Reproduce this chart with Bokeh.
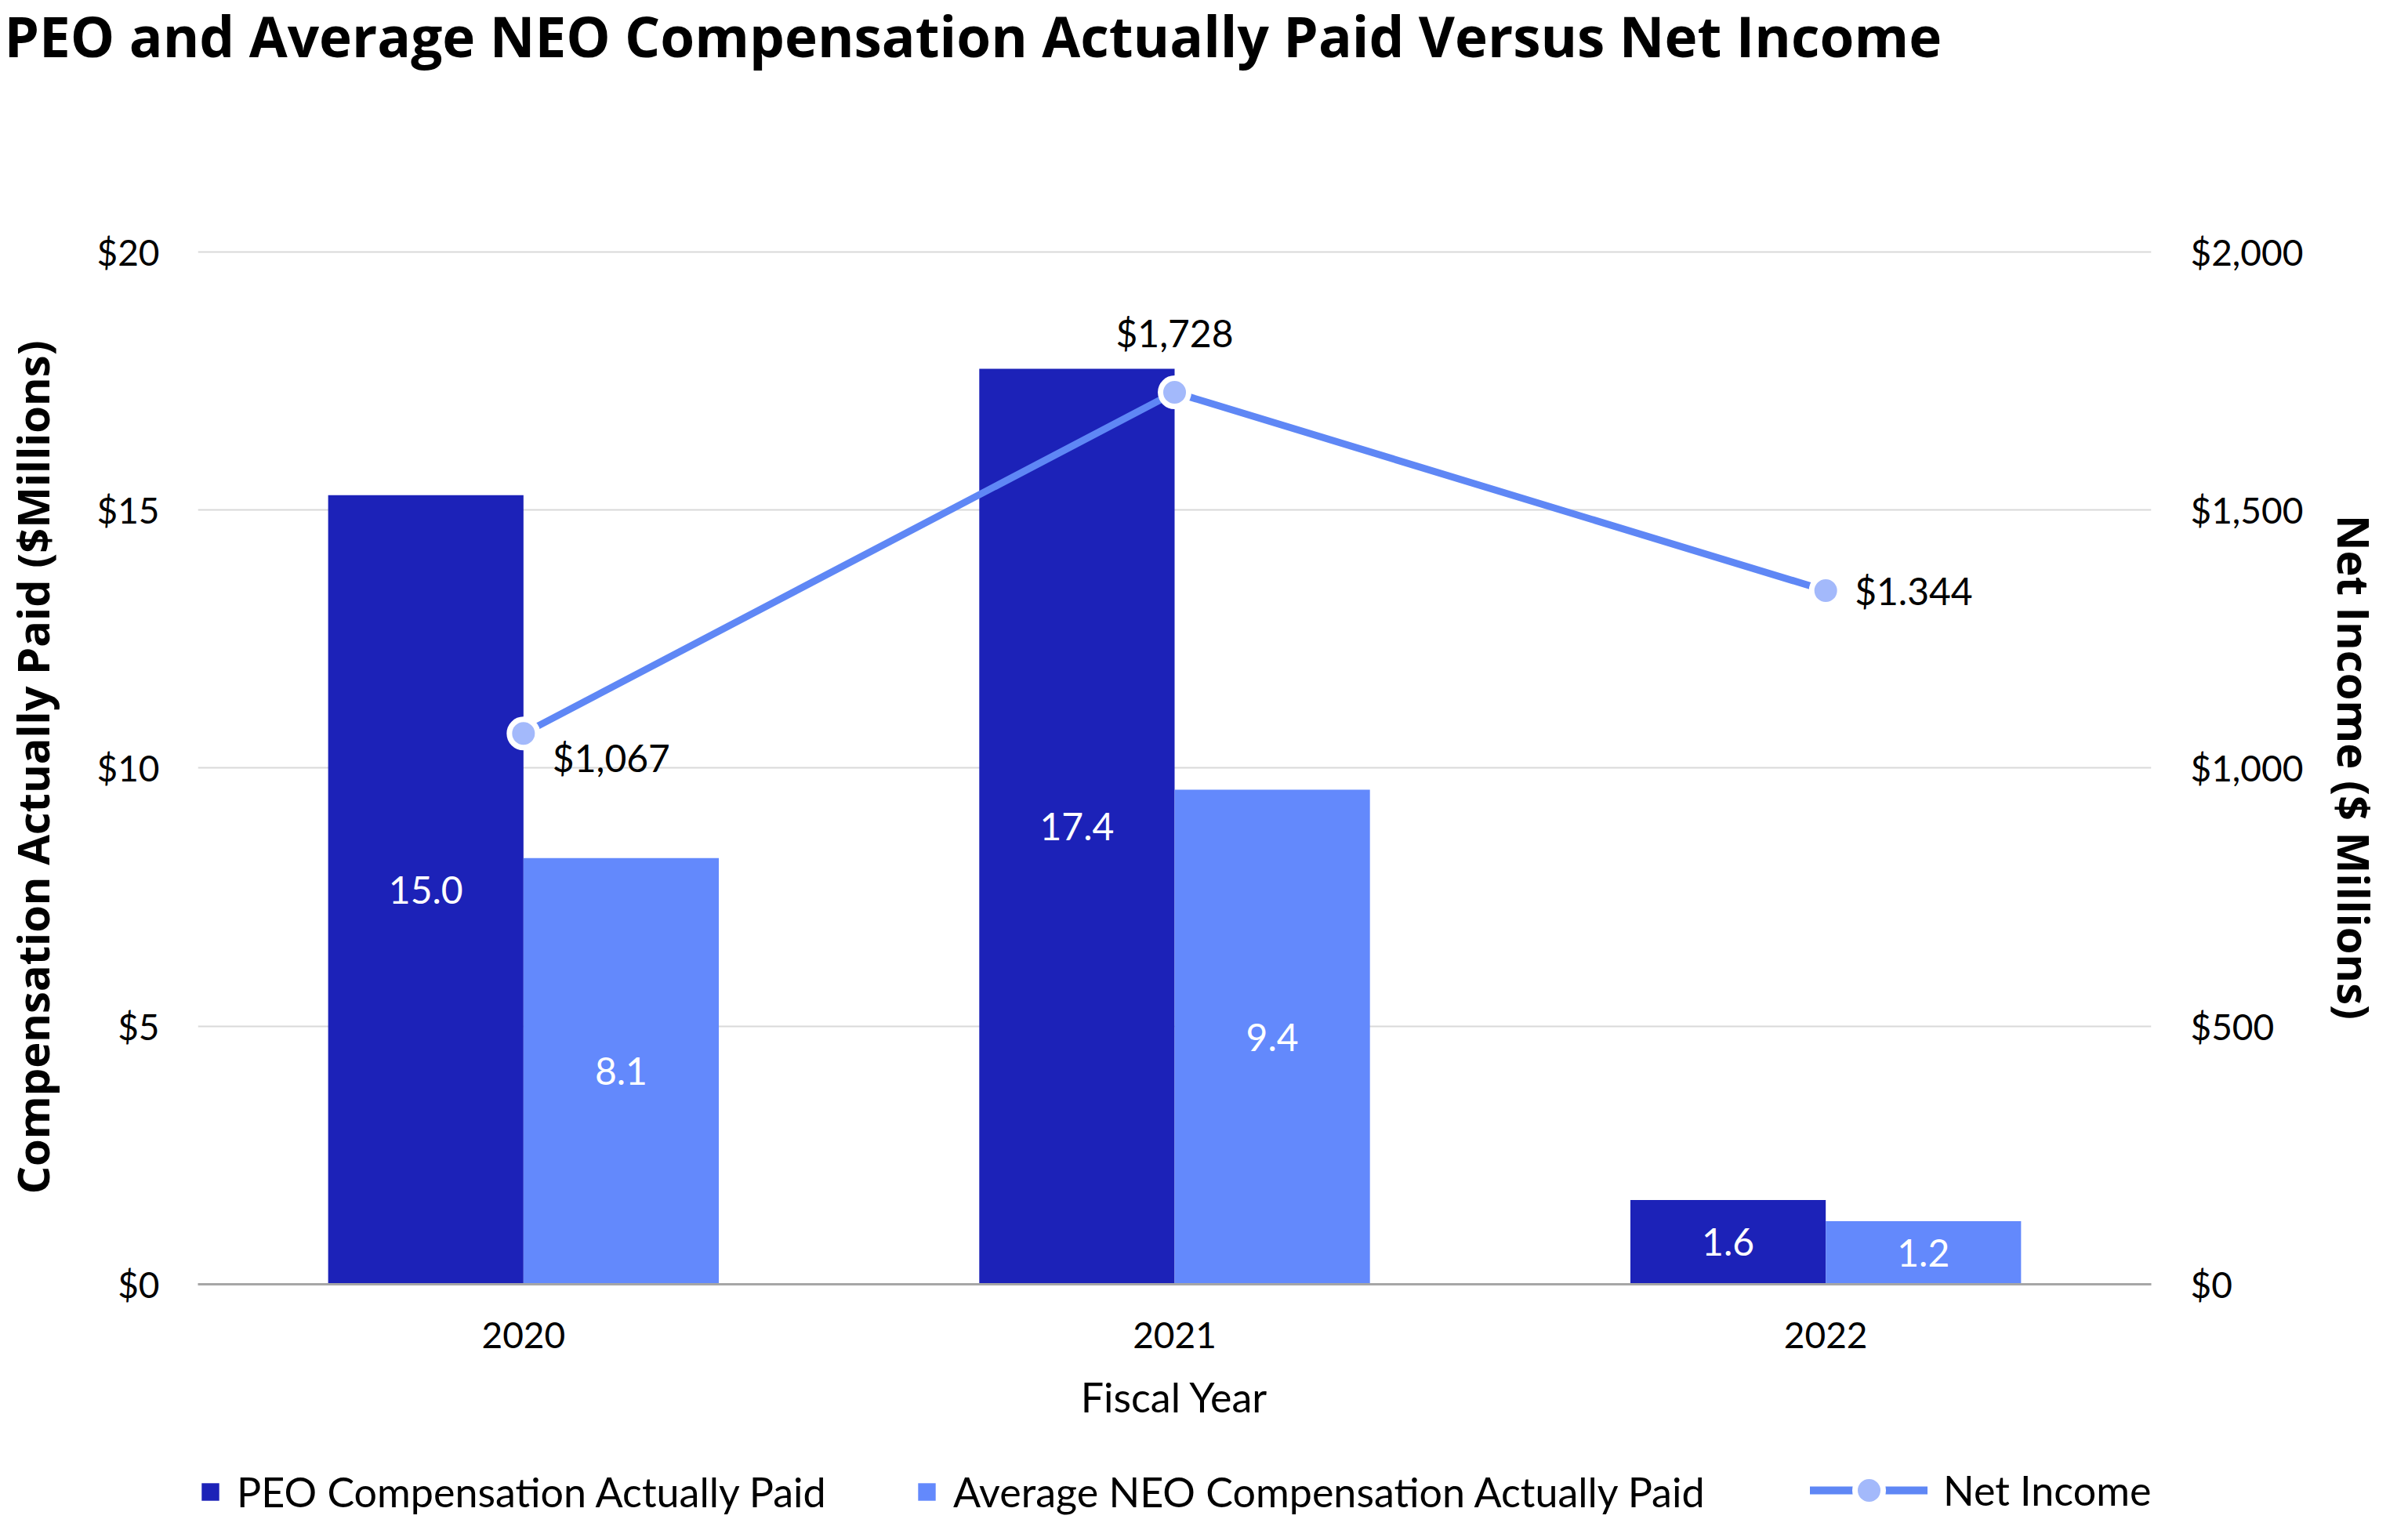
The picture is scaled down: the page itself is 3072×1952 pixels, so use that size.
from bokeh.plotting import figure
from bokeh.layouts import column
from bokeh.models import (FactorRange, Range1d, LinearAxis, FixedTicker, Title,
                          NumeralTickFormatter, Legend, LegendItem, ColumnDataSource)
from bokeh.transform import dodge
from bokeh.core.properties import value
from bokeh.embed import file_html
from bokeh.resources import INLINE

# ---- data ----
years = ["2020", "2021", "2022"]
peo_cap = [15.0, 17.4, 1.6]
neo_cap = [8.1, 9.4, 1.2]
net_income = [1067, 1728, 1344]
net_income_labels = ["$1,067", "$1,728", "$1.344"]
left_ticks = [0, 5, 10, 15, 20]
right_ticks = [0, 500, 1000, 1500, 2000]
series_names = ["PEO Compensation Actually Paid",
                "Average NEO Compensation Actually Paid", "Net Income"]
chart_title = "PEO and Average NEO Compensation Actually Paid Versus Net Income"

# ---- styles ----
FONT = "Lato"
BOLD_FONT = "Open Sans"
PEO_COLOR = "#1c22b8"
NEO_COLOR = "#6389fc"
LINE_COLOR = "#5f87f5"
MARKER_COLOR = "#a3b9fb"
ni_dx = [37, 0, 37]
ni_dy = [31, -76, 0]
ni_align = ["left", "center", "left"]
W = 3056
LEG_H = 110
MAIN_H = 1936 - LEG_H

src = ColumnDataSource(dict(
    year=years, peo=peo_cap, neo=neo_cap,
    peo_mid=[v / 2 for v in peo_cap], neo_mid=[v / 2 for v in neo_cap],
    peo_lbl=[f"{v:.1f}" for v in peo_cap], neo_lbl=[f"{v:.1f}" for v in neo_cap],
    ni=net_income, ni_lbl=net_income_labels,
    dx=ni_dx, dy=ni_dy, al=ni_align,
))

p = figure(width=W, height=MAIN_H, x_range=FactorRange(factors=years),
           y_range=Range1d(0, 20.03), output_backend="svg", toolbar_location=None,
           min_border_left=247, min_border_right=312, min_border_top=10,
           min_border_bottom=MAIN_H - 1638)
p.extra_y_ranges = {"bars": Range1d(0, 19.65), "ni": Range1d(0, 2003)}

# chart title (outermost, at the very top)
p.title.text = chart_title
p.title.text_font = BOLD_FONT
p.title.text_font_size = "71px"
p.title.text_font_style = "bold"
p.title.text_color = "black"
p.title.align = "left"
p.title.vertical_align = "top"
p.title.offset = -247
p.title.standoff = -8
# blank spacer between the title and the plot frame
p.add_layout(Title(text=" ", text_font=BOLD_FONT, text_font_size="10px",
                   standoff=212), "above")

peo_r = p.vbar(x=dodge("year", -0.15, range=p.x_range), top="peo", width=0.3,
               fill_color=PEO_COLOR, line_color=None, y_range_name="bars", source=src)
neo_r = p.vbar(x=dodge("year", 0.15, range=p.x_range), top="neo", width=0.3,
               fill_color=NEO_COLOR, line_color=None, y_range_name="bars", source=src)

p.text(x=dodge("year", -0.15, range=p.x_range), y="peo_mid", text="peo_lbl",
       y_range_name="bars", source=src, text_color="white", text_align="center",
       text_baseline="middle", text_font=value(FONT), text_font_size="48px")
p.text(x=dodge("year", 0.15, range=p.x_range), y="neo_mid", text="neo_lbl",
       y_range_name="bars", source=src, text_color="white", text_align="center",
       text_baseline="middle", text_font=value(FONT), text_font_size="48px")

line_r = p.line(x="year", y="ni", y_range_name="ni", source=src,
                line_width=9, line_color=LINE_COLOR, line_cap="round")
dot_r = p.scatter(x="year", y="ni", y_range_name="ni", source=src, size=36,
                  fill_color=MARKER_COLOR, line_color="white", line_width=7)
p.text(x="year", y="ni", text="ni_lbl", y_range_name="ni", source=src,
       x_offset="dx", y_offset="dy", text_align="al", text_baseline="middle",
       text_color="black", text_font=value(FONT), text_font_size="48px")

# ---- axes ----
yl = p.yaxis[0]
yl.ticker = FixedTicker(ticks=left_ticks)
yl.formatter = NumeralTickFormatter(format="$0")
yl.axis_label = "Compensation Actually Paid ($Millions)"

yr = LinearAxis(y_range_name="ni", ticker=FixedTicker(ticks=right_ticks),
                formatter=NumeralTickFormatter(format="$0,0"),
                axis_label="Net Income ($ Millions)")
p.add_layout(yr, "right")

for ax in (yl, yr):
    ax.axis_line_color = None
    ax.major_tick_line_color = None
    ax.minor_tick_line_color = None
    ax.major_tick_out = 0
    ax.major_tick_in = 0
    ax.minor_tick_out = 0
    ax.major_label_text_font = FONT
    ax.major_label_text_font_size = "46px"
    ax.major_label_text_color = "black"
    ax.major_label_text_baseline = "middle"
    ax.axis_label_text_font = BOLD_FONT
    ax.axis_label_text_font_size = "56px"
    ax.axis_label_text_font_style = "bold"
    ax.axis_label_text_color = "black"
yl.major_label_standoff = 49
yl.axis_label_standoff = 41
yr.major_label_standoff = 50
yr.axis_label_standoff = 25

xa = p.xaxis[0]
xa.axis_label = "Fiscal Year"
xa.axis_line_color = "#a6a6a6"
xa.axis_line_width = 3
xa.major_tick_line_color = None
xa.minor_tick_line_color = None
xa.major_tick_out = 0
xa.major_tick_in = 0
xa.major_label_text_font = FONT
xa.major_label_text_font_size = "46px"
xa.major_label_text_color = "black"
xa.major_label_standoff = 48
xa.axis_label_text_font = FONT
xa.axis_label_text_font_size = "52px"
xa.axis_label_text_font_style = "normal"
xa.axis_label_text_color = "black"
xa.axis_label_standoff = 28

p.xgrid.grid_line_color = None
p.ygrid.grid_line_color = "#d9d9d9"
p.ygrid.grid_line_width = 2
p.outline_line_color = None

# ---- legend strip: its own figure (frame aligned with the main frame) ----
# its x range holds no year, so the key renderers draw nothing but their legend keys
leg = figure(width=W, height=LEG_H, x_range=FactorRange(factors=["key"]),
             y_range=Range1d(-2, -1), x_axis_type=None, y_axis_type=None,
             min_border=0, output_backend="svg", toolbar_location=None)
leg.grid.visible = False
leg.outline_line_color = None
k_peo = leg.vbar(x="year", top="peo", width=0.3, source=src,
                 fill_color=PEO_COLOR, line_color=None)
k_neo = leg.vbar(x="year", top="neo", width=0.3, source=src,
                 fill_color=NEO_COLOR, line_color=None)
k_line = leg.line(x="year", y="ni", source=src, line_width=10,
                  line_color=LINE_COLOR, line_cap="round")
k_dot = leg.scatter(x="year", y="ni", source=src, fill_color=MARKER_COLOR,
                    line_color="white", line_width=7)

def make_legend(items, loc, gw, gh):
    return Legend(items=items, location=loc, orientation="horizontal",
                  glyph_width=gw, glyph_height=gh, label_standoff=20,
                  label_height=28,
                  label_text_font=FONT, label_text_font_size="52px",
                  label_text_color="black", label_text_baseline="middle",
                  border_line_color=None,
                  background_fill_alpha=0, padding=0, margin=0, spacing=0)

leg.add_layout(make_legend([LegendItem(label=series_names[0], renderers=[k_peo])],
                           (2, 2), 28, 28), "center")
leg.add_layout(make_legend([LegendItem(label=series_names[1], renderers=[k_neo])],
                           (916, 2), 28, 28), "center")
leg.add_layout(make_legend([LegendItem(label=series_names[2], renderers=[k_line, k_dot])],
                           (2057, -10), 150, 90), "center")

layout = column(p, leg, spacing=0)
open("out.html", "w").write(file_html(layout, INLINE))
